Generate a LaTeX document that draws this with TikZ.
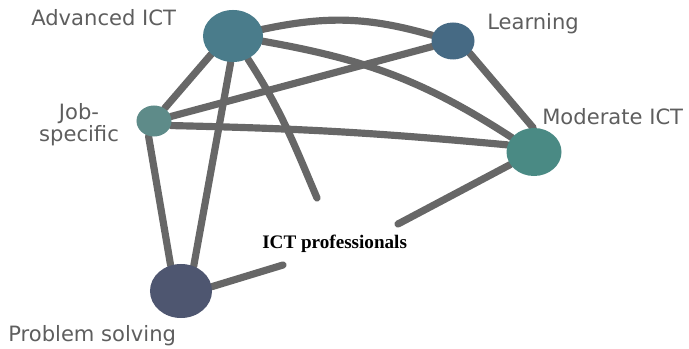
\documentclass[tikz,border=0pt]{standalone}
\usepackage{fontspec}
\setmainfont{DejaVu Sans}
\newfontfamily\timesfont{Liberation Serif}
\usepackage{tikz}
\usetikzlibrary{shapes.geometric,backgrounds}
\definecolor{advcol}{HTML}{4A7C8B}
\definecolor{lrncol}{HTML}{466A84}
\definecolor{jobcol}{HTML}{5E8B89}
\definecolor{modcol}{HTML}{4A8A84}
\definecolor{probcol}{HTML}{4E5670}
\definecolor{tiegray}{HTML}{676767}
\definecolor{taggray}{HTML}{5E5E5E}
\tikzset{
    hub/.style={ellipse, inner sep=0pt},
    tie/.style={draw=tiegray, line width=5.1pt, line cap=round},
    tag/.style={font=\fontsize{15}{13.25}\selectfont, text=taggray, inner sep=0pt, anchor=base west},
    group/.style={font=\timesfont\bfseries\fontsize{13.6}{16}\selectfont, inner sep=0pt, anchor=base west},
}

\begin{document}
\begin{tikzpicture}[x=0.025cm, y=0.025cm]
    \useasboundingbox (0,0) rectangle (689,348);

    \node[hub, fill=advcol, minimum width=1.5cm, minimum height=1.3cm] (adv) at (233,312) {};
    \node[hub, fill=lrncol, minimum width=1.075cm, minimum height=0.925cm] (lrn) at (453,307) {};
    \node[hub, fill=jobcol, minimum width=0.875cm, minimum height=0.775cm] (job) at (154,227) {};
    \node[hub, fill=modcol, minimum width=1.375cm, minimum height=1.2cm] (mod) at (534,196) {};
    \node[hub, fill=probcol, minimum width=1.55cm, minimum height=1.35cm] (prob) at (181,57) {};

    \node[tag] (advtag) at (31,322) {Advanced ICT};
    \node[tag] (lrntag) at (487,318) {Learning};
    \node[tag, anchor=base, align=center] (jobtag) at (79,206.5) {Job-\\specific};
    \node[tag] (modtag) at (542,223) {Moderate ICT};
    \node[tag] (probtag) at (8,7) {Problem solving};
    \node[group] (ictpro) at (262,99) {ICT professionals};

    \coordinate (advend) at (317,150);
    \coordinate (modend) at (398,124);
    \coordinate (probend) at (283,83);

    \begin{scope}[on background layer]
        \draw[tie] (adv) to[bend left=14] (lrn);
        \draw[tie] (adv) to[out=-10, in=147] (mod);
        \draw[tie] (adv) to[out=-57, in=113] (advend);
        \draw[tie] (adv.265) -- (prob.63);
        \draw[tie] (adv.220) -- (job.50);
        \draw[tie] (job) -- (lrn);
        \draw[tie] (job.345) to[bend left=2] (mod.165);
        \draw[tie] (job.250) -- (prob.112);
        \draw[tie] (lrn.324) -- (mod.92);
        \draw[tie] (mod) -- (modend);
        \draw[tie] (prob.8) -- (probend);
    \end{scope}
\end{tikzpicture}
\end{document}
